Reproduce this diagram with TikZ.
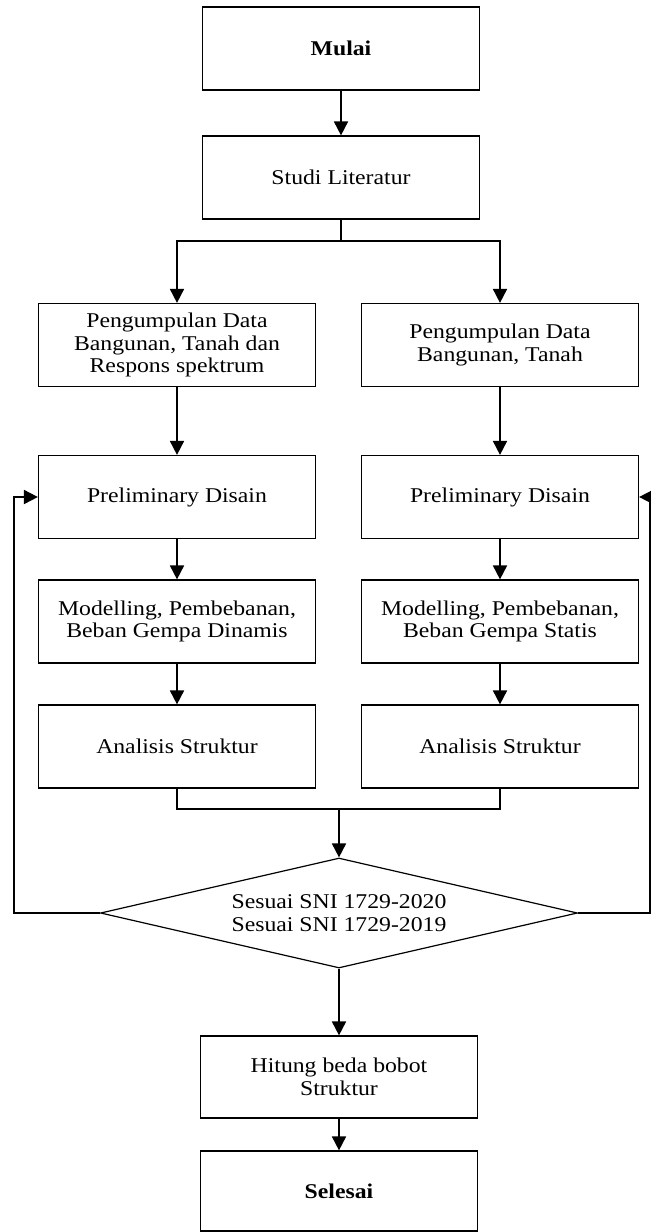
\documentclass[tikz,border=0pt]{standalone}
\usepackage{fontspec}
\setmainfont{Liberation Serif}[FakeStretch=1.13]
\usepackage{tikz}
\usetikzlibrary{arrows.meta,shapes.geometric,calc}
\tikzset{
  box/.style={draw=black, semithick, fill=white, align=center,
              minimum width=138.5pt, minimum height=41.5pt, inner sep=2pt,
              font=\fontsize{10.5}{11.2}\selectfont},
  cekbox/.style={draw=black, semithick, fill=white, diamond, aspect=4.3, align=center,
              minimum width=238.5pt, minimum height=55pt, inner sep=0pt,
              font=\fontsize{10.5}{11.2}\selectfont},
  flow/.style={-{Triangle[length=7pt,width=7pt]}, black, line width=0.9pt},
  joint/.style={black, line width=0.9pt},
}

\begin{document}
\begin{tikzpicture}[x=0.5pt,y=-0.5pt]
    \useasboundingbox (0,0) rectangle (651,1232);
    \node[box] (mulai) at (341,48.5) {\textbf{Mulai}};
    \node[box] (studi) at (341,177.5) {Studi Literatur};
    \node[box] (data1) at (177,345) {Pengumpulan Data\\Bangunan, Tanah dan\\Respons spektrum};
    \node[box] (data2) at (500,345) {Pengumpulan Data\\Bangunan, Tanah};
    \node[box] (pre1) at (177,497) {Preliminary Disain};
    \node[box] (pre2) at (500,497) {Preliminary Disain};
    \node[box] (mod1) at (177,621.5) {Modelling, Pembebanan,\\Beban Gempa Dinamis};
    \node[box] (mod2) at (500,621.5) {Modelling, Pembebanan,\\Beban Gempa Statis};
    \node[box] (ana1) at (177,746.5) {Analisis Struktur};
    \node[box] (ana2) at (500,746.5) {Analisis Struktur};
    \node[cekbox] (cek) at (339,913) {Sesuai SNI 1729-2020\\Sesuai SNI 1729-2019};
    \node[box, minimum height=41pt] (hitung) at (339,1077) {Hitung beda bobot\\Struktur};
    \node[box, minimum height=40pt] (selesai) at (339,1191) {\textbf{Selesai}};
    \coordinate (split) at (341,241);
    \coordinate (join) at (339,809);
    \coordinate (backL) at (14,497);
    \coordinate (backR) at (650,497);
    \draw[flow] (mulai) -- (studi);
    \draw[joint] (studi.south) -- (split);
    \draw[flow] (split) -| (data1.north);
    \draw[flow] (split) -| (data2.north);
    \draw[flow] (data1) -- (pre1);
    \draw[flow] (data2) -- (pre2);
    \draw[flow] (pre1) -- (mod1);
    \draw[flow] (pre2) -- (mod2);
    \draw[flow] (mod1) -- (ana1);
    \draw[flow] (mod2) -- (ana2);
    \draw[joint] (ana1.south) |- (join) -| (ana2.south);
    \draw[flow] (join) -- (cek.north);
    \draw[flow] (cek.west) -| (backL) -- (pre1.west);
    \draw[flow] (cek.east) -| (backR) -- (pre2.east);
    \draw[flow] (cek.south) -- (hitung);
    \draw[flow] (hitung) -- (selesai);
  \end{tikzpicture}
\end{document}
